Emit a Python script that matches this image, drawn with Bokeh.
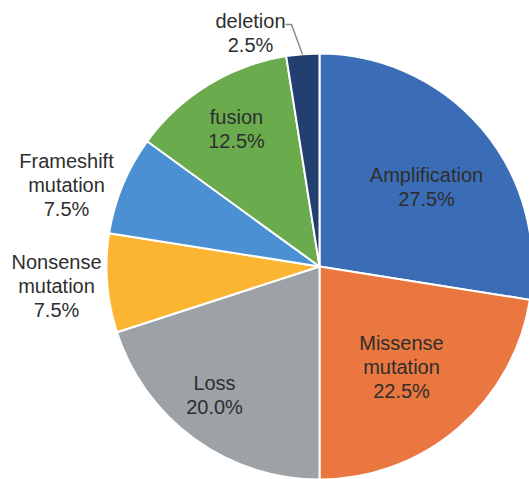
import math
from bokeh.plotting import figure
from bokeh.models import Range1d, ColumnDataSource
from bokeh.embed import file_html
from bokeh.resources import INLINE
from bokeh.core.properties import value

categories = ["Amplification", "Missense mutation", "Loss", "Nonsense mutation",
              "Frameshift mutation", "fusion", "deletion"]
percents = [27.5, 22.5, 20.0, 7.5, 7.5, 12.5, 2.5]
colors = ["#3B6DB6", "#E9773F", "#9DA2A7", "#FBB532", "#4A90D2", "#6AAB4E", "#233F70"]

W, H = 529, 479
p = figure(width=W, height=H, x_range=Range1d(0, W), y_range=Range1d(0, H),
           output_backend="svg", toolbar_location=None, min_border=0)
p.axis.visible = False
p.grid.visible = False
p.outline_line_color = None
p.background_fill_color = "white"

cx, cy, r = 319, H - 266, 213

total = sum(percents)
starts, ends = [], []
acc = 0.0
for v in percents:
    starts.append(math.pi / 2 - acc / total * 2 * math.pi)
    acc += v
    ends.append(math.pi / 2 - acc / total * 2 * math.pi)

src = ColumnDataSource(dict(start=starts, end=ends, color=colors))
p.wedge(x=cx, y=cy, radius=r, start_angle="start", end_angle="end",
        direction="clock", fill_color="color", line_color="white", line_width=2,
        source=src)

# label positions (image coords) for each slice
label_pos = {
    "Amplification": (426, 174),
    "Missense mutation": (401, 342),
    "Loss": (214, 382),
    "Nonsense mutation": (56, 261),
    "Frameshift mutation": (66, 160),
    "fusion": (236, 116),
    "deletion": (250, 20),
}
split = {
    "Amplification": ["Amplification"],
    "Missense mutation": ["Missense", "mutation"],
    "Loss": ["Loss"],
    "Nonsense mutation": ["Nonsense", "mutation"],
    "Frameshift mutation": ["Frameshift", "mutation"],
    "fusion": ["fusion"],
    "deletion": ["deletion"],
}
xs, ys, texts = [], [], []
for c, v in zip(categories, percents):
    x0, y0 = label_pos[c]
    lines = split[c] + [f"{v:.1f}%"]
    for i, t in enumerate(lines):
        xs.append(x0)
        ys.append(H - (y0 + i * 24))
        texts.append(t)

p.text(x=xs, y=ys, text=texts, text_align="center", text_baseline="middle",
       text_font=value("Liberation Sans"), text_font_size="20px", text_color="#2E2E2E")

# leader line for deletion
p.line(x=[285, 291, 302], y=[H - 24, H - 24, H - 54], line_color="#8C8C8C", line_width=1.5)

open("out.html", "w").write(file_html(p, INLINE))
